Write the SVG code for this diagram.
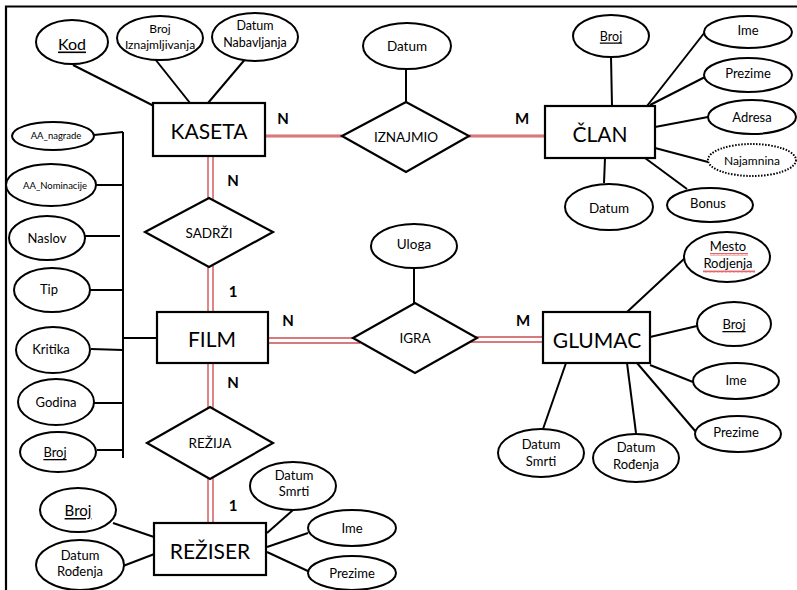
<svg xmlns="http://www.w3.org/2000/svg" width="797" height="590" viewBox="0 0 797 590">
<defs>
<style>
text{font-family:Lato,"Liberation Sans",sans-serif;fill:#000;text-anchor:middle;dominant-baseline:central}
.e{fill:#fff;stroke:#000;stroke-width:2}
.dot{fill:#fff;stroke:#000;stroke-width:2;stroke-dasharray:1.5 1.5}
.b{fill:#fff;stroke:#000;stroke-width:2.2}
.ln{stroke:#000;stroke-width:2;fill:none}
.rd{stroke:#d9797b;stroke-width:1.8;fill:none}
.rw{stroke:#eab3b3;stroke-width:4;fill:none}
.ent{font-size:21px}
.lab{font-size:15px;font-weight:bold}
.a{font-size:13.5px}
.t{font-size:13px}
.s{font-size:9.5px}
.u{text-decoration:underline}
</style>
<pattern id="wave" width="4" height="3" patternUnits="userSpaceOnUse">
<path d="M0 2.5 L1 0.5 L2 2.5 L3 0.5 L4 2.5" stroke="#e04040" stroke-width="0.8" fill="none"/>
</pattern>
</defs>
<rect x="0" y="0" width="797" height="590" fill="#fff"/>
<path d="M6 590 V6.5 H797" stroke="#000" stroke-width="2.2" fill="none"/>

<g id="connectors">
<line class="ln" x1="73" y1="65" x2="154" y2="106"/>
<line class="ln" x1="155" y1="59" x2="190" y2="103"/>
<line class="ln" x1="247" y1="57" x2="208" y2="103"/>
<line class="ln" x1="406" y1="69" x2="406" y2="102"/>
<line class="rw" x1="266" y1="136" x2="342" y2="136"/>
<line class="rd" x1="266" y1="136" x2="342" y2="136" stroke-width="1.2"/>
<line class="rw" x1="469" y1="136" x2="545" y2="136"/>
<line class="rd" x1="469" y1="136" x2="545" y2="136" stroke-width="1.2"/>
<line class="ln" x1="611" y1="57" x2="612" y2="106"/>
<line class="ln" x1="647" y1="106" x2="705" y2="32"/>
<line class="ln" x1="650" y1="105" x2="705" y2="77"/>
<line class="ln" x1="655" y1="127" x2="708" y2="117"/>
<line class="ln" x1="655" y1="148" x2="708" y2="162"/>
<line class="ln" x1="645" y1="158" x2="687" y2="189"/>
<line class="ln" x1="605" y1="158" x2="604" y2="183"/>
<line class="rd" x1="208" y1="156" x2="208" y2="199"/>
<line class="rd" x1="213" y1="156" x2="213" y2="200"/>
<line class="rd" x1="208" y1="266" x2="208" y2="312"/>
<line class="rd" x1="213" y1="266" x2="213" y2="312"/>
<line class="rd" x1="208" y1="363" x2="208" y2="408"/>
<line class="rd" x1="213" y1="363" x2="213" y2="409"/>
<line class="rd" x1="208" y1="478" x2="208" y2="523"/>
<line class="rd" x1="213" y1="478" x2="213" y2="523"/>
<line class="rd" x1="268" y1="338" x2="356" y2="338"/>
<line class="rd" x1="268" y1="343" x2="360" y2="343"/>
<line class="rd" x1="474" y1="337" x2="543" y2="337"/>
<line class="rd" x1="470" y1="342" x2="543" y2="342"/>
<line class="ln" x1="414" y1="268" x2="414" y2="303"/>
<line class="ln" x1="123" y1="132" x2="123" y2="458"/>
<line class="ln" x1="94" y1="135" x2="123" y2="132"/>
<line class="ln" x1="96" y1="185" x2="123" y2="185"/>
<line class="ln" x1="85" y1="236" x2="120" y2="236"/>
<line class="ln" x1="89" y1="290" x2="123" y2="290"/>
<line class="ln" x1="91" y1="349" x2="123" y2="350"/>
<line class="ln" x1="94" y1="403" x2="123" y2="403"/>
<line class="ln" x1="97" y1="450" x2="123" y2="450"/>
<line class="ln" x1="123" y1="338" x2="157" y2="338"/>
<line class="ln" x1="113" y1="523" x2="154" y2="537"/>
<line class="ln" x1="123" y1="566" x2="157" y2="553"/>
<line class="ln" x1="267" y1="533" x2="293" y2="510"/>
<line class="ln" x1="267" y1="547" x2="308" y2="533"/>
<line class="ln" x1="267" y1="552" x2="310" y2="572"/>
<line class="ln" x1="627" y1="312" x2="685" y2="258"/>
<line class="ln" x1="650" y1="337" x2="697" y2="326"/>
<line class="ln" x1="650" y1="365" x2="693" y2="382"/>
<line class="ln" x1="637" y1="363" x2="696" y2="432"/>
<line class="ln" x1="627" y1="363" x2="636" y2="433"/>
<line class="ln" x1="566" y1="363" x2="543" y2="429"/>
</g>

<g id="labels">
<text class="lab" x="283" y="118">N</text>
<text class="lab" x="522" y="118">M</text>
<text class="lab" x="233" y="180">N</text>
<text class="lab" x="233" y="291">1</text>
<text class="lab" x="233" y="382">N</text>
<text class="lab" x="233" y="505">1</text>
<text class="lab" x="288" y="320">N</text>
<text class="lab" x="523" y="320">M</text>
</g>

<g id="kaseta"><rect class="b" x="153" y="103" width="112" height="53"/><text class="ent" x="209" y="130">KASETA</text></g>
<g id="kaseta-kod"><ellipse class="e" cx="72" cy="42" rx="36" ry="22"/><text class="u" x="72" y="43" font-size="16">Kod</text></g>
<g id="kaseta-broj"><ellipse class="e" cx="160" cy="38" rx="43" ry="22"/><text x="160" y="28" font-size="12">Broj</text><text x="160" y="44" font-size="12">Iznajmljivanja</text></g>
<g id="kaseta-datum"><ellipse class="e" cx="255" cy="37" rx="43" ry="24"/><text x="255" y="25" font-size="12.5">Datum</text><text x="255" y="42" font-size="12.5">Nabavljanja</text></g>

<g id="iznajmio"><polygon class="b" points="342,136 406,102 469,136 406,172"/><text class="a" x="406" y="137">IZNAJMIO</text></g>
<g id="iznajmio-datum"><ellipse class="e" cx="407" cy="46" rx="44" ry="23"/><text class="a" x="407" y="46">Datum</text></g>

<g id="clan"><rect class="b" x="545" y="106" width="110" height="52"/><text class="ent" x="600" y="133">ČLAN</text></g>
<g id="clan-broj"><ellipse class="e" cx="611" cy="36" rx="38" ry="21"/><text class="u" x="611" y="36" font-size="12.5">Broj</text></g>
<g id="clan-ime"><ellipse class="e" cx="748" cy="32" rx="44" ry="16"/><text class="t" x="748" y="30">Ime</text></g>
<g id="clan-prezime"><ellipse class="e" cx="748" cy="75" rx="44" ry="17"/><text class="t" x="748" y="73">Prezime</text></g>
<g id="clan-adresa"><ellipse class="e" cx="752" cy="117" rx="44" ry="17"/><text class="t" x="752" y="117">Adresa</text></g>
<g id="clan-najamnina"><ellipse class="dot" cx="752" cy="160" rx="44" ry="16"/><text x="752" y="160" font-size="12">Najamnina</text></g>
<g id="clan-bonus"><ellipse class="e" cx="710" cy="205" rx="43" ry="17"/><text class="t" x="708" y="203">Bonus</text></g>
<g id="clan-datum"><ellipse class="e" cx="609" cy="207" rx="44" ry="23"/><text class="a" x="609" y="208">Datum</text></g>

<g id="sadrzi"><polygon class="b" points="145,232 209,198 273,232 209,267"/><text class="a" x="209" y="233">SADRŽI</text></g>
<g id="film"><rect class="b" x="157" y="312" width="111" height="51"/><text class="ent" x="212" y="338">FILM</text></g>
<g id="rezija"><polygon class="b" points="147,443 210,407 273,443 210,479"/><text class="a" x="210" y="443">REŽIJA</text></g>
<g id="reziser"><rect class="b" x="154" y="523" width="112" height="52"/><text class="ent" x="210" y="550">REŽISER</text></g>

<g id="film-aa-nagrade"><ellipse class="e" cx="53" cy="136" rx="41" ry="14"/><text class="s" x="56" y="135">AA_nagrade</text></g>
<g id="film-aa-nominacije"><ellipse class="e" cx="51" cy="185" rx="45" ry="21"/><text class="s" x="55" y="185">AA_Nominacije</text></g>
<g id="film-naslov"><ellipse class="e" cx="47" cy="238" rx="38" ry="22"/><text class="t" x="47" y="238">Naslov</text></g>
<g id="film-tip"><ellipse class="e" cx="52" cy="290" rx="38" ry="22"/><text class="t" x="49" y="289">Tip</text></g>
<g id="film-kritika"><ellipse class="e" cx="53" cy="350" rx="37" ry="23"/><text class="t" x="51" y="349">Kritika</text></g>
<g id="film-godina"><ellipse class="e" cx="56" cy="402" rx="38" ry="23"/><text class="t" x="56" y="402">Godina</text></g>
<g id="film-broj"><ellipse class="e" cx="58" cy="452" rx="38" ry="20"/><text class="u t" x="55" y="452">Broj</text></g>

<g id="reziser-broj"><ellipse class="e" cx="78" cy="510" rx="38" ry="22"/><text class="u" x="78" y="510" font-size="15">Broj</text></g>
<g id="reziser-datum-rodjenja"><ellipse class="e" cx="80" cy="565" rx="44" ry="25"/><text class="t" x="80" y="555">Datum</text><text class="t" x="80" y="571">Rođenja</text></g>
<g id="reziser-datum-smrti"><ellipse class="e" cx="293" cy="486" rx="43" ry="24"/><text class="t" x="294" y="475">Datum</text><text class="t" x="294" y="491">Smrti</text></g>
<g id="reziser-ime"><ellipse class="e" cx="352" cy="528" rx="44" ry="18"/><text class="t" x="352" y="528">Ime</text></g>
<g id="reziser-prezime"><ellipse class="e" cx="352" cy="573" rx="44" ry="17"/><text class="t" x="352" y="573">Prezime</text></g>

<g id="igra"><polygon class="b" points="353,338 415,303 477,338 415,373"/><text class="a" x="415" y="338">IGRA</text></g>
<g id="igra-uloga"><ellipse class="e" cx="414" cy="246" rx="43" ry="22"/><text class="a" x="414" y="244">Uloga</text></g>

<g id="glumac"><rect class="b" x="543" y="312" width="107" height="51"/><text class="ent" x="597" y="339">GLUMAC</text></g>
<g id="glumac-mesto-rodjenja"><ellipse class="e" cx="727" cy="257" rx="43" ry="25"/><text class="t" x="728" y="246">Mesto</text><text class="t" x="728" y="263">Rodjenja</text><rect x="710" y="253" width="38" height="3" fill="url(#wave)"/><rect x="703" y="270" width="52" height="3" fill="url(#wave)"/></g>
<g id="glumac-broj"><ellipse class="e" cx="734" cy="324" rx="37" ry="22"/><text class="u t" x="734" y="324">Broj</text></g>
<g id="glumac-ime"><ellipse class="e" cx="736" cy="381" rx="43" ry="18"/><text class="t" x="736" y="380">Ime</text></g>
<g id="glumac-prezime"><ellipse class="e" cx="738" cy="434" rx="43" ry="18"/><text class="t" x="736" y="432">Prezime</text></g>
<g id="glumac-datum-smrti"><ellipse class="e" cx="541" cy="453" rx="43" ry="24"/><text class="t" x="541" y="444">Datum</text><text class="t" x="541" y="461">Smrti</text></g>
<g id="glumac-datum-rodjenja"><ellipse class="e" cx="636" cy="458" rx="43" ry="24"/><text class="t" x="636" y="447">Datum</text><text class="t" x="636" y="464">Rođenja</text></g>
</svg>
